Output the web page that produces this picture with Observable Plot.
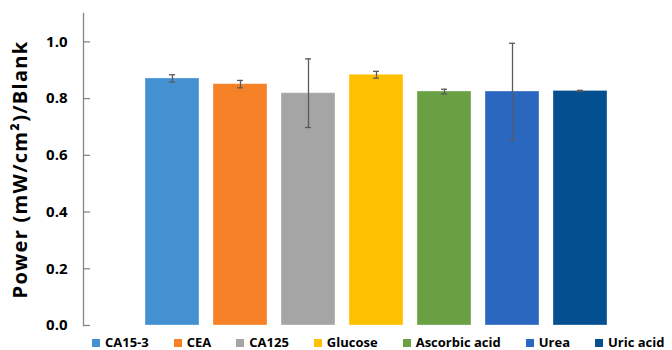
<!DOCTYPE html>
<html>
<head>
<meta charset="utf-8">
<script src="https://cdn.jsdelivr.net/npm/d3@7"></script>
<script src="https://cdn.jsdelivr.net/npm/@observablehq/plot@0.6"></script>
<style>
  html, body { margin: 0; padding: 0; background: #fff; }
  body { width: 672px; height: 350px; overflow: hidden; font-family: "Open Sans", Lato, sans-serif; }
  #chart svg { display: block; }
  #chart svg g[aria-label="text"] text { letter-spacing: 1.3px; }
  #legend div.lg-swatches { font-family: "Open Sans", Lato, sans-serif; font-size: 13px; line-height: 13px; font-weight: bold; color: #000; margin: 0; }
  #legend div.lg-swatches-wrap { min-height: 0; height: 13px; padding-top: 3px; align-items: center; flex-wrap: nowrap; padding-left: 92px; box-sizing: content-box; }
  #legend span.lg-swatch { margin-right: 25px; white-space: nowrap; flex-shrink: 0; line-height: 13px; }
  #legend span.lg-swatch > svg { margin-right: 5px; flex-shrink: 0; }
</style>
</head>
<body>
<div id="chart"></div>
<div id="legend"></div>
<script>
// Normalized power for each analyte (mean and error half-width)
const categories = ["CA15-3", "CEA", "CA125", "Glucose", "Ascorbic acid", "Urea", "Uric acid"];
const values = [0.871, 0.851, 0.819, 0.884, 0.825, 0.825, 0.827];
const errors = [0.013, 0.013, 0.121, 0.012, 0.008, 0.170, 0.002];
const colors = ["#4391d0", "#f58025", "#a5a5a5", "#ffc000", "#69a044", "#2a67bf", "#034f8f"];
const yTicks = [0, 0.2, 0.4, 0.6, 0.8, 1.0];
const yLabel = "Power (mW/cm²)/Blank";

const data = categories.map((name, i) => ({name, value: values[i], err: errors[i]}));
const errColor = "#5a5a5a";

const chart = Plot.plot({
  width: 672,
  height: 333,
  marginLeft: 83,
  marginRight: 4,
  marginTop: 13,
  marginBottom: 8,
  style: {fontFamily: "'Open Sans', Lato, sans-serif", color: "#000", background: "#fff"},
  x: {domain: categories, paddingInner: 0.213, paddingOuter: 0.87, axis: null},
  y: {domain: [0, 1.1]},
  color: {domain: categories, range: colors},
  marks: [
    Plot.barY(data, {x: "name", y: "value", fill: "name", stroke: "#ffffff", strokeOpacity: 0.35, strokeWidth: 1}),
    Plot.ruleX(data, {x: "name", y1: d => d.value - d.err, y2: d => d.value + d.err, stroke: errColor, strokeWidth: 1.3}),
    Plot.tickY(data, {x: "name", y: d => d.value + d.err, insetLeft: 24, insetRight: 24, stroke: errColor, strokeWidth: 1.3}),
    Plot.tickY(data, {x: "name", y: d => d.value - d.err, insetLeft: 24, insetRight: 24, stroke: errColor, strokeWidth: 1.3}),
    Plot.frame({anchor: "left", stroke: "#868686", strokeWidth: 1.3}),
    Plot.axisY({
      ticks: yTicks,
      tickFormat: ".1f",
      tickSize: -7,
      tickPadding: 23,
      stroke: "#868686",
      strokeWidth: 1.3,
      fontSize: 15,
      fontWeight: "bold",
      label: null
    }),
    Plot.text([yLabel], {
      frameAnchor: "left",
      textAnchor: "middle",
      dx: -63,
      rotate: -90,
      fontSize: 20,
      fontWeight: "bold",
      fill: "#000"
    })
  ]
});

document.getElementById("chart").appendChild(chart);
document.getElementById("legend").appendChild(
  chart.legend("color", {className: "lg", swatchSize: 8})
);
</script>
</body>
</html>
